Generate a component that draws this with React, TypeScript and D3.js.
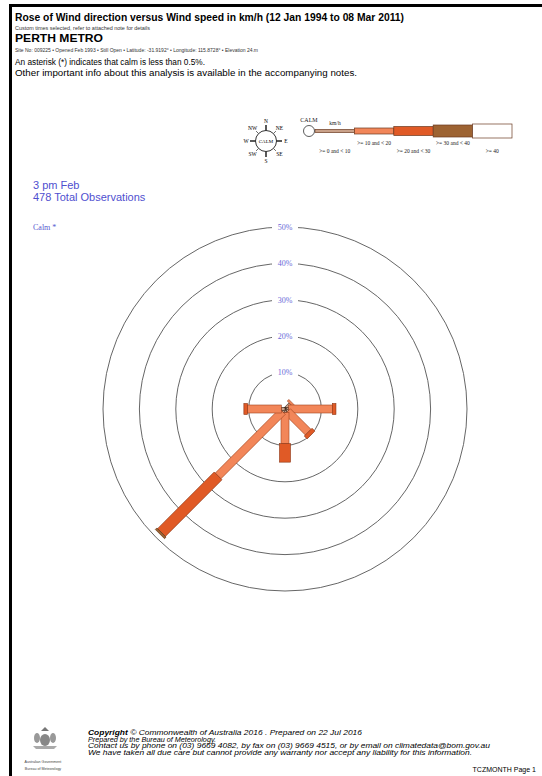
import React from 'react';
import * as d3 from 'd3';

// wind rose data, percent of observations (3 pm Feb, Perth Metro)
const directions = ['N', 'NE', 'E', 'SE', 'S', 'SW', 'W', 'NW'];
const speedClasses = ['>= 0 and < 10', '>= 10 and < 20', '>= 20 and < 30', '>= 30 and < 40', '>= 40'];
const pctN = [0, 0, 0, 0, 0];
const pctNE = [2.0, 0.6, 0, 0, 0];
const pctE = [1.0, 12.0, 1.0, 0, 0];
const pctSE = [1.0, 8.0, 1.1, 0, 0];
const pctS = [1.0, 8.5, 5.1, 0, 0];
const pctSW = [1.0, 25.0, 22.0, 0.6, 0];
const pctW = [1.0, 9.3, 1.0, 0, 0];
const pctNW = [0, 0, 0, 0, 0];
const ringTicks = [10, 20, 30, 40, 50];
const compassLabels = ['N', 'NE', 'E', 'SE', 'S', 'SW', 'W', 'NW'];

const classColors = ['#c9a189', '#f28659', '#e05a26', '#9d6332', '#ffffff'];
const classStrokes = ['#2a1a10', '#a0441e', '#8a3414', '#5a3418', '#444'];
const roseWidths = [3, 8, 11, 13, 15];
const keyWidths = [3, 6, 9, 12, 14];
const blue = '#4f4fcf';
const sans = '"Liberation Sans", Arial, Helvetica, sans-serif';
const serif = '"Liberation Serif", "Times New Roman", serif';

const cx = 285;
const cy = 409;

export default function App() {
  const byDir = [pctN, pctNE, pctE, pctSE, pctS, pctSW, pctW, pctNW];
  const r = d3.scaleLinear().domain([0, 50]).range([0, 182]);
  const angle = d3.scaleLinear().domain([0, directions.length]).range([0, 360]);

  // legend key
  const kx = d3.scaleLinear().domain([0, speedClasses.length]).range([315, 512]);
  const ky = 131;

  return (
    <div style={{ position: 'fixed', left: 0, top: 0, background: '#fff' }}>
      <svg width={542} height={776} style={{ display: 'block' }}>
        <rect width={542} height={776} fill="#fff" />
        {/* page frame */}
        <rect x={9} y={4} width={533} height={3} fill="#000" />
        <rect x={9} y={4} width={3} height={772} fill="#000" />

        {/* header */}
        <g fontFamily={sans} fill="#000">
          <text x={15} y={21} fontSize={10} fontWeight="bold" textLength={389} lengthAdjust="spacingAndGlyphs">
            Rose of Wind direction versus Wind speed in km/h (12 Jan 1994 to 08 Mar 2011)
          </text>
          <text x={15} y={29.5} fontSize={5} fill="#333" textLength={135} lengthAdjust="spacingAndGlyphs">
            Custom times selected, refer to attached note for details
          </text>
          <text x={15} y={42} fontSize={10} fontWeight="bold" textLength={88} lengthAdjust="spacingAndGlyphs">
            PERTH METRO
          </text>
          <text x={15} y={51.5} fontSize={5} fill="#333" textLength={243} lengthAdjust="spacingAndGlyphs">
            Site No: 009225 • Opened Feb 1993 • Still Open • Latitude: -31.9192° • Longitude: 115.8728° • Elevation 24.m
          </text>
          <text x={15} y={65} fontSize={8.5} textLength={190} lengthAdjust="spacingAndGlyphs">
            An asterisk (*) indicates that calm is less than 0.5%.
          </text>
          <text x={15} y={75.5} fontSize={8.5} textLength={342} lengthAdjust="spacingAndGlyphs">
            Other important info about this analysis is available in the accompanying notes.
          </text>
        </g>

        {/* compass icon */}
        <g transform="translate(266,141)" fontFamily={serif} fontSize={5.5} fill="#000">
          {compassLabels.map((d, i) => {
            const a = ((angle(i) - 90) * Math.PI) / 180;
            const major = i % 2 === 0;
            const lr = major ? 20 : 19;
            return (
              <g key={d}>
                <line
                  x1={Math.cos(a) * 10.5}
                  y1={Math.sin(a) * 10.5}
                  x2={Math.cos(a) * (major ? 16 : 14)}
                  y2={Math.sin(a) * (major ? 16 : 14)}
                  stroke="#000"
                  strokeWidth={major ? 1.3 : 0.6}
                />
                <text x={Math.cos(a) * lr} y={Math.sin(a) * lr + 2} textAnchor="middle">
                  {d}
                </text>
              </g>
            );
          })}
          <circle r={10.5} fill="#fff" stroke="#000" strokeWidth={0.8} />
          <text y={1.8} textAnchor="middle" fontSize={5}>CALM</text>
        </g>

        {/* speed key */}
        <g fontFamily={serif} fontSize={5.5} fill="#222">
          <text x={309} y={122} textAnchor="middle" fontSize={6}>CALM</text>
          <text x={335} y={124.5} textAnchor="middle">km/h</text>
          {speedClasses.map((c, i) => (
            <g key={c}>
              <rect
                x={kx(i)}
                y={ky - keyWidths[i] / 2}
                width={kx(i + 1) - kx(i)}
                height={keyWidths[i]}
                fill={classColors[i]}
                stroke="#6b3a20"
                strokeWidth={0.7}
              />
              <text x={(kx(i) + kx(i + 1)) / 2} y={i % 2 === 0 ? 152.5 : 144.5} textAnchor="middle">
                {c}
              </text>
            </g>
          ))}
          <circle cx={309} cy={ky} r={5.5} fill="#fff" stroke="#333" strokeWidth={0.8} />
        </g>

        {/* chart captions */}
        <g fontFamily={sans} fill={blue}>
          <text x={33} y={189} fontSize={11}>3 pm Feb</text>
          <text x={33} y={200.5} fontSize={11}>478 Total Observations</text>
        </g>
        <text x={33} y={230} fontFamily={serif} fontSize={8} fill="#5a5ad0">Calm *</text>

        {/* rings */}
        <g>
          {ringTicks.map((t) => (
            <circle key={t} cx={cx} cy={cy} r={r(t)} fill="none" stroke="#555" strokeWidth={0.9} />
          ))}
          {ringTicks.map((t) => (
            <g key={'l' + t}>
              <rect x={cx - 13} y={cy - r(t) - 4.5} width={26} height={9} fill="#fff" />
              <text
                x={cx}
                y={cy - r(t) + 2.7}
                textAnchor="middle"
                fontFamily={serif}
                fontSize={8}
                fill="#6a6ad8"
              >
                {t}%
              </text>
            </g>
          ))}
        </g>

        {/* petals */}
        {byDir.map((vals, di) => {
          const cum = d3.cumsum(vals);
          return (
            <g key={directions[di]} transform={`translate(${cx},${cy}) rotate(${angle(di)})`}>
              {vals.map((v, ci) => {
                if (v <= 0) return null;
                const end = r(cum[ci]);
                const start = r(cum[ci] - v);
                const w = roseWidths[ci];
                return (
                  <rect
                    key={ci}
                    x={-w / 2}
                    y={-end}
                    width={w}
                    height={end - start}
                    fill={classColors[ci]}
                    stroke={classStrokes[ci]}
                    strokeWidth={0.6}
                  />
                );
              })}
            </g>
          );
        })}

        {/* footer */}
        <g transform="translate(45,738)" fill="#666">
          <ellipse cx={0} cy={2} rx={5} ry={6} fill="#888" />
          <ellipse cx={-8} cy={0} rx={3} ry={5} fill="#999" />
          <ellipse cx={8} cy={0} rx={3} ry={5} fill="#999" />
          <path d="M-4,-7 L0,-11 L4,-7 Z" fill="#777" />
          <path d="M-12,8 L12,8 L9,11 L-9,11 Z" fill="#aaa" />
        </g>
        <g fontFamily={sans} fontSize={3.6} fill="#444" textAnchor="middle">
          <text x={43} y={763}>Australian Government</text>
          <text x={43} y={770}>Bureau of Meteorology</text>
        </g>
        <g fontFamily={sans} fontSize={7} fontStyle="italic" fill="#000">
          <text x={88} y={735} textLength={274} lengthAdjust="spacingAndGlyphs">
            <tspan fontWeight="bold">Copyright</tspan> © Commonwealth of Australia 2016 . Prepared on 22 Jul 2016
          </text>
          <text x={88} y={741.5} textLength={128} lengthAdjust="spacingAndGlyphs">
            Prepared by the Bureau of Meteorology.
          </text>
          <text x={88} y={748} textLength={402} lengthAdjust="spacingAndGlyphs">
            Contact us by phone on (03) 9669 4082, by fax on (03) 9669 4515, or by email on climatedata@bom.gov.au
          </text>
          <text x={88} y={754.5} textLength={384} lengthAdjust="spacingAndGlyphs">
            We have taken all due care but cannot provide any warranty nor accept any liability for this information.
          </text>
        </g>
        <text x={536} y={772} textAnchor="end" fontFamily={sans} fontSize={7} fill="#000">
          TCZMONTH Page 1
        </text>
      </svg>
    </div>
  );
}
